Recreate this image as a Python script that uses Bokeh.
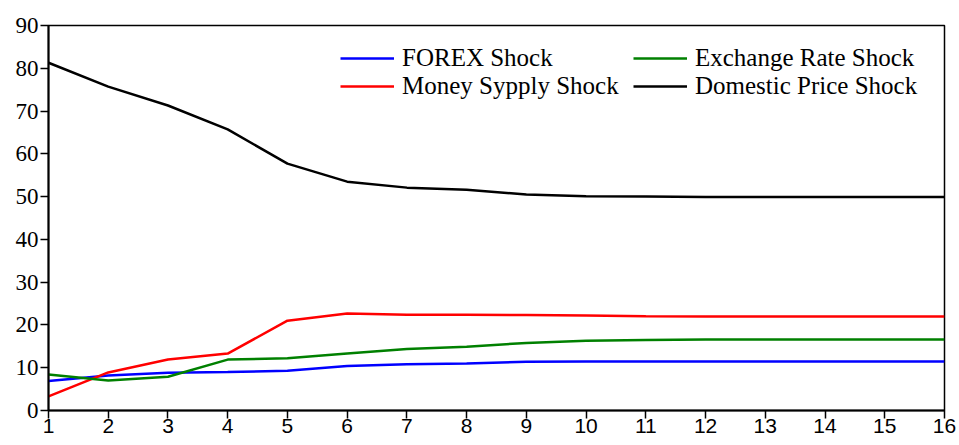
from bokeh.plotting import figure
from bokeh.models import Range1d, Legend, LegendItem, FixedTicker
from bokeh.embed import file_html
from bokeh.resources import INLINE

# Variance decomposition by horizon (periods 1..16)
periods = list(range(1, 17))
forex_shock = [6.9, 8.2, 8.8, 9.0, 9.3, 10.4, 10.8, 11.0, 11.4, 11.45, 11.45, 11.45, 11.45, 11.45, 11.45, 11.45]
money_supply_shock = [3.3, 8.9, 11.9, 13.3, 21.0, 22.7, 22.4, 22.4, 22.3, 22.2, 22.05, 22.0, 22.0, 22.0, 22.0, 22.0]
exchange_rate_shock = [8.4, 7.0, 7.9, 11.9, 12.2, 13.3, 14.4, 14.9, 15.8, 16.3, 16.5, 16.6, 16.6, 16.6, 16.6, 16.6]
domestic_price_shock = [81.3, 75.7, 71.3, 65.7, 57.7, 53.5, 52.1, 51.6, 50.5, 50.1, 50.0, 49.9, 49.9, 49.9, 49.9, 49.9]

y_ticks = [0, 10, 20, 30, 40, 50, 60, 70, 80, 90]

p = figure(width=959, height=445, output_backend="svg", toolbar_location=None,
           x_range=Range1d(1, 16), y_range=Range1d(0, 90),
           min_border_left=48, min_border_right=15, min_border_top=25, min_border_bottom=35)
p.background_fill_color = "white"
p.border_fill_color = "white"
p.outline_line_color = "black"
p.outline_line_width = 1.5
p.xgrid.visible = False
p.ygrid.visible = False

r_forex = p.line(periods, forex_shock, line_color="#0000FF", line_width=2.5)
r_money = p.line(periods, money_supply_shock, line_color="#FF0000", line_width=2.5)
r_exch = p.line(periods, exchange_rate_shock, line_color="#008000", line_width=2.5)
r_dom = p.line(periods, domestic_price_shock, line_color="#000000", line_width=2.5)

# axes
p.xaxis.ticker = FixedTicker(ticks=periods)
p.yaxis.ticker = FixedTicker(ticks=y_ticks)
for ax in (p.xaxis[0], p.yaxis[0]):
    ax.axis_line_color = "black"
    ax.axis_line_width = 2
    ax.major_tick_line_color = "black"
    ax.major_tick_line_width = 1.5
    ax.major_tick_in = 0
    ax.major_tick_out = 8
    ax.minor_tick_line_color = None
    ax.major_label_text_color = "black"
p.yaxis.major_label_text_font = "Liberation Serif"
p.yaxis.major_label_text_font_size = "23px"
p.yaxis.major_label_standoff = 2
p.xaxis.major_label_text_font = "Liberation Sans"
p.xaxis.major_label_text_font_size = "21px"
p.xaxis.major_label_standoff = 0


def make_legend(items, x_offset):
    lg = Legend(items=items, location=(x_offset, 310))
    lg.label_text_font = "Liberation Serif"
    lg.label_text_font_size = "25px"
    lg.label_text_color = "black"
    lg.glyph_width = 54
    lg.glyph_height = 20
    lg.label_height = 20
    lg.label_standoff = 8
    lg.spacing = 0
    lg.padding = 0
    lg.margin = 0
    lg.border_line_color = None
    lg.background_fill_alpha = 0
    return lg


# two legend columns
legend_left = make_legend([
    LegendItem(label="FOREX Shock", renderers=[r_forex]),
    LegendItem(label="Money Sypply Shock", renderers=[r_money]),
], 292)
legend_right = make_legend([
    LegendItem(label="Exchange Rate Shock", renderers=[r_exch]),
    LegendItem(label="Domestic Price Shock", renderers=[r_dom]),
], 585)
p.add_layout(legend_left, "center")
p.add_layout(legend_right, "center")

open("out.html", "w").write(file_html(p, INLINE))
